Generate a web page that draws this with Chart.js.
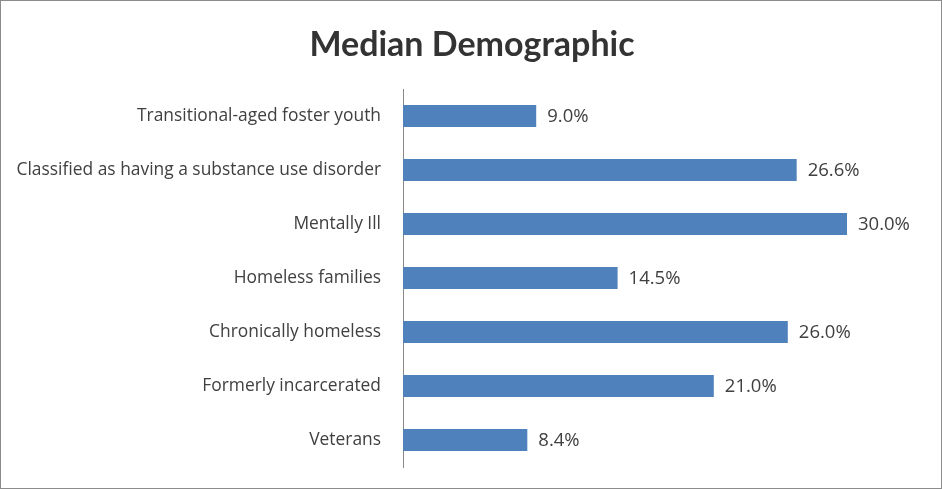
<!DOCTYPE html>
<html>
<head>
<meta charset="utf-8">
<script src="https://cdn.jsdelivr.net/npm/chart.js@4.4.1/dist/chart.umd.min.js"></script>
<style>
  html, body { margin: 0; padding: 0; background: #fff; }
  #wrap { width: 942px; height: 489px; box-sizing: border-box; border: 1px solid #8c8c8c; }
  #demoChart { display: block; }
</style>
</head>
<body>
<div id="wrap"><canvas id="demoChart" width="940" height="487"></canvas></div>
<script>
const categories = [
  "Transitional-aged foster youth",
  "Classified as having a substance use disorder",
  "Mentally Ill",
  "Homeless families",
  "Chronically homeless",
  "Formerly incarcerated",
  "Veterans"
];
const medianPct = [9.0, 26.6, 30.0, 14.5, 26.0, 21.0, 8.4];
const chartTitle = "Median Demographic";

const FONT = "'Open Sans', sans-serif";
const TITLE_FONT = "Lato, sans-serif";
const TEXT = "#404040";

// title centred on the whole canvas + value labels right of each bar
const barLabels = {
  id: "barLabels",
  afterDatasetsDraw(chart){
    const ctx = chart.ctx;
    const meta = chart.getDatasetMeta(0);
    ctx.save();
    ctx.font = "bold 34px " + TITLE_FONT;
    ctx.fillStyle = "#333333";
    ctx.textAlign = "center";
    ctx.textBaseline = "middle";
    ctx.fillText(chartTitle, chart.width / 2 + 1, 44);

    ctx.font = "18.5px " + FONT;
    ctx.fillStyle = TEXT;
    ctx.textAlign = "left";
    meta.data.forEach((bar, i) => {
      ctx.fillText(medianPct[i].toFixed(1) + "%", bar.x + 11, bar.y + 1);
    });
    ctx.restore();
  }
};

new Chart(document.getElementById("demoChart"), {
  type: "bar",
  data: {
    labels: categories,
    datasets: [{
      data: medianPct,
      backgroundColor: "#4f81bd",
      borderWidth: 0,
      categoryPercentage: 1,
      barPercentage: 0.41
    }]
  },
  options: {
    indexAxis: "y",
    responsive: false,
    animation: false,
    layout: { padding: { left: 0, right: 20, top: 88, bottom: 21 } },
    plugins: {
      legend: { display: false },
      tooltip: { enabled: false },
      title: { display: false }
    },
    scales: {
      x: { display: false, min: 0, max: 35 },
      y: {
        grid: { display: false, drawTicks: false },
        border: { display: true, color: "#898989", width: 1 },
        ticks: { color: TEXT, font: { family: FONT, size: 17.4 }, padding: 22 },
        afterFit(scale){
          scale.width = 402;
          scale.paddingTop = 0;
          scale.paddingBottom = 0;
        }
      }
    }
  },
  plugins: [barLabels]
});
</script>
</body>
</html>
